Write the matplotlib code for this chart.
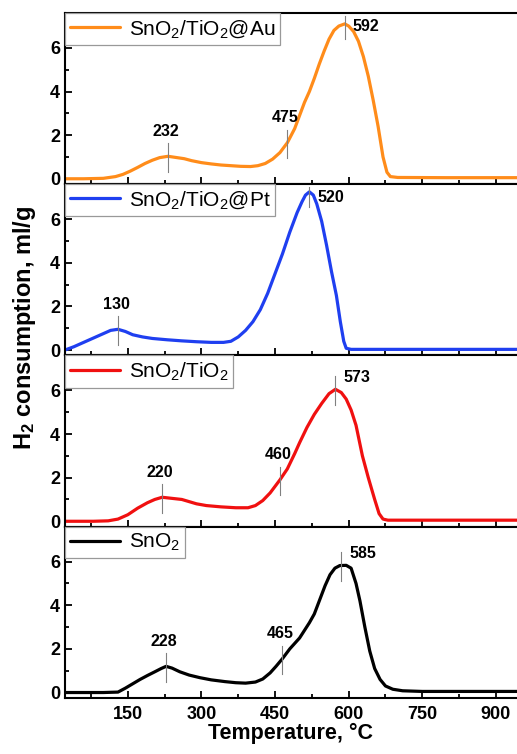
import numpy as np
import matplotlib
matplotlib.use('Agg')
import matplotlib.pyplot as plt
from matplotlib.ticker import MultipleLocator

plt.rcParams['font.family'] = ['Liberation Sans', 'DejaVu Sans']
plt.rcParams['mathtext.default'] = 'regular'

# SnO2/TiO2@Au
t_au = [22, 60, 100, 125, 140, 155, 170, 185, 200, 215, 232, 250, 265, 280, 300, 320, 340, 360, 380, 400,
        415, 430, 445, 460, 475, 490, 500, 510, 520, 530, 540, 550, 560, 570, 580, 592, 600, 610, 620, 630,
        640, 650, 660, 670, 678, 685, 700, 800, 943]
h_au = [0.0, 0.0, 0.02, 0.1, 0.2, 0.35, 0.52, 0.7, 0.85, 0.97, 1.03, 0.97, 0.92, 0.83, 0.74, 0.68, 0.63, 0.6, 0.57, 0.56,
        0.6, 0.7, 0.9, 1.2, 1.65, 2.3, 2.9, 3.5, 4.0, 4.6, 5.25, 5.85, 6.4, 6.8, 7.0, 7.1, 7.0, 6.75, 6.3, 5.6,
        4.7, 3.6, 2.4, 1.0, 0.3, 0.1, 0.06, 0.05, 0.05]

# SnO2/TiO2@Pt
t_pt = [22, 40, 60, 80, 100, 115, 130, 145, 160, 180, 200, 230, 260, 290, 320, 345, 360, 375, 390, 405,
        420, 435, 450, 465, 480, 495, 505, 512, 520, 528, 535, 545, 555, 565, 575, 583, 590, 595, 605, 943]
h_pt = [0.0, 0.15, 0.35, 0.55, 0.75, 0.9, 0.95, 0.85, 0.7, 0.6, 0.53, 0.47, 0.42, 0.38, 0.35, 0.35, 0.4, 0.6, 0.9, 1.3,
        1.85, 2.6, 3.5, 4.4, 5.4, 6.3, 6.8, 7.1, 7.25, 7.1, 6.7, 5.9, 4.8, 3.6, 2.5, 1.3, 0.4, 0.08, 0.03, 0.03]

# SnO2/TiO2
t_ti = [22, 80, 110, 130, 150, 170, 190, 205, 220, 240, 260, 275, 290, 310, 340, 370, 395, 410, 425, 440,
        460, 475, 490, 500, 515, 530, 545, 560, 573, 585, 595, 605, 615, 628, 640, 653, 662, 670, 680, 943]
h_ti = [0.0, 0.0, 0.02, 0.1, 0.3, 0.6, 0.85, 1.0, 1.1, 1.05, 1.0, 0.9, 0.8, 0.72, 0.66, 0.62, 0.62, 0.72, 0.95, 1.3,
        1.9, 2.4, 3.1, 3.6, 4.3, 4.9, 5.4, 5.85, 6.05, 5.9, 5.6, 5.1, 4.4, 3.0, 2.0, 1.0, 0.35, 0.1, 0.05, 0.05]

# SnO2
t_sn = [22, 100, 130, 145, 160, 175, 190, 205, 218, 228, 240, 256, 275, 297, 320, 348, 370, 390, 410, 425,
        440, 452, 465, 480, 500, 520, 530, 541, 552, 562, 572, 582, 595, 605, 615, 623, 633, 643, 653, 664,
        675, 690, 710, 750, 943]
h_sn = [0.0, 0.0, 0.02, 0.2, 0.4, 0.6, 0.78, 0.95, 1.1, 1.2, 1.12, 0.95, 0.8, 0.68, 0.58, 0.5, 0.45, 0.43, 0.48, 0.62,
        0.9, 1.2, 1.55, 2.0, 2.5, 3.2, 3.6, 4.25, 4.9, 5.4, 5.7, 5.82, 5.83, 5.7, 5.0, 4.2, 3.0, 1.9, 1.1, 0.6,
        0.3, 0.15, 0.08, 0.05, 0.05]

labels = ['SnO$_2$/TiO$_2$@Au', 'SnO$_2$/TiO$_2$@Pt', 'SnO$_2$/TiO$_2$', 'SnO$_2$']
colors = ['#FF8C1A', '#1F3FF0', '#F01010', 'black']
peaks = [[232, 475, 592], [130, 520], [220, 460, 573], [228, 465, 585]]

curves = [(t_au, h_au), (t_pt, h_pt), (t_ti, h_ti), (t_sn, h_sn)]

fig, axes = plt.subplots(4, 1, sharex=True, figsize=(5.17, 7.54), dpi=100)
fig.subplots_adjust(left=0.1257, right=1.0, top=0.9828, bottom=0.0743, hspace=0)

for ax, (t, h), lab, col, pk in zip(axes, curves, labels, colors, peaks):
    ax.plot(t, h, color=col, lw=2.3, label=lab, solid_capstyle='round')
    # peak markers
    for i, p in enumerate(pk):
        v = float(np.interp(p, t, h))
        lo = v - 0.7
        hi = min(v + 0.6, 7.45)
        ax.plot([p, p], [lo, hi], color='#808080', lw=0.8, zorder=3)
        if i == len(pk) - 1:
            ax.text(p + 16, min(v + 0.55, 7.0), str(p), ha='left', va='center',
                    fontsize=11.5, fontweight='bold')
        else:
            ax.text(p - 4, hi + 0.2, str(p), ha='center', va='bottom',
                    fontsize=11.5, fontweight='bold')

    ax.set_xlim(22, 943)
    ax.set_ylim(-0.25, 7.6)
    ax.xaxis.set_major_locator(MultipleLocator(150))
    ax.xaxis.set_minor_locator(MultipleLocator(75))
    ax.yaxis.set_major_locator(MultipleLocator(2))
    ax.yaxis.set_minor_locator(MultipleLocator(1))
    ax.tick_params(which='both', direction='in', width=1.3, labelsize=13)
    ax.tick_params(which='major', length=5)
    ax.tick_params(which='minor', length=3)
    ax.tick_params(axis='x', pad=6)
    for lbl in ax.get_xticklabels() + ax.get_yticklabels():
        lbl.set_fontweight('bold')
    for s in ['left', 'bottom', 'top']:
        ax.spines[s].set_linewidth(1.5)
    ax.spines['right'].set_visible(False)
    leg = ax.legend(loc='upper left', bbox_to_anchor=(0, 1), borderaxespad=0, fancybox=False,
                    edgecolor='#999999', framealpha=1, fontsize=15, handlelength=2.4,
                    handletextpad=0.4, borderpad=0.25)
    leg.get_frame().set_linewidth(0.9)

axes[-1].set_xticks([150, 300, 450, 600, 750, 900])
for lbl in axes[-1].get_xticklabels():
    lbl.set_fontweight('bold')
axes[-1].set_xlabel('Temperature, °C', fontsize=15.5, fontweight='bold', labelpad=0)
fig.text(0.048, 0.565, 'H$_2$ consumption, ml/g', rotation=90, ha='center', va='center',
         fontsize=17, fontweight='bold')

fig.savefig('out.png', dpi=100)
